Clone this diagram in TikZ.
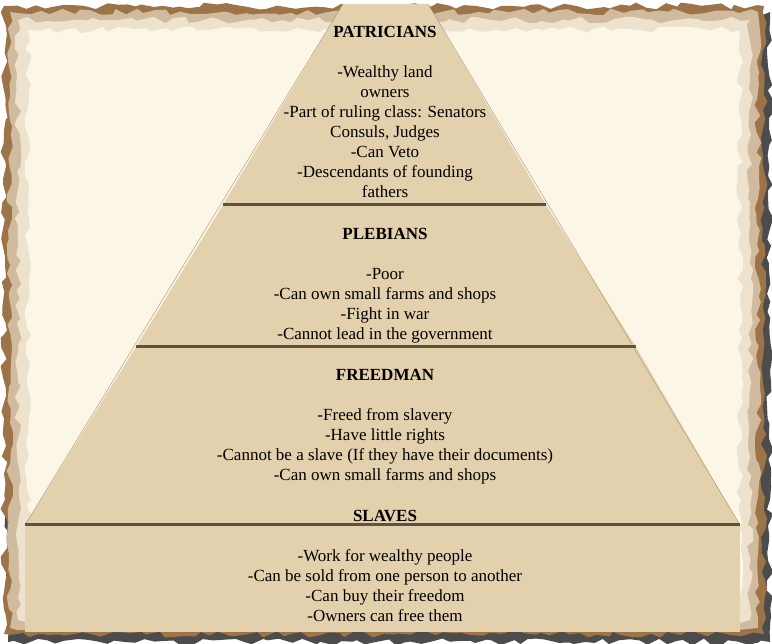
\documentclass[tikz,border=0pt]{standalone}
\usepackage{fontspec}
\setmainfont{Liberation Serif}
\usetikzlibrary{decorations.pathmorphing}
\definecolor{paper}{HTML}{FBF6E6}
\definecolor{burnt}{HTML}{9C7448}
\definecolor{tier}{HTML}{E3D0AC}
\definecolor{tierdark}{HTML}{D2B98E}

\begin{document}
\begin{tikzpicture}[
    x=1pt, y=-1pt,
    tiertext/.style={align=center, anchor=north, inner sep=0pt, font=\fontsize{17}{20}\selectfont},
    divider/.style={line width=3pt, draw=black!55!tierdark},
    torn/.style={decorate, decoration={random steps, segment length=9pt, amplitude=3.5pt}}
]
\pgfmathsetseed{7}
\useasboundingbox (0,0) rectangle (772,644);

% torn paper
\fill[black!70, torn] (8,12) rectangle (770,642);
\fill[burnt, torn] (4,6) rectangle (764,634);
\fill[burnt!45!paper, torn] (10,12) rectangle (758,628);
\fill[paper!85!burnt, torn] (18,20) rectangle (750,620);
\fill[paper, torn] (28,30) rectangle (740,610);

% pyramid tiers
\fill[tier] (343,4) -- (428,4) -- (546,205) -- (223,205) -- cycle;
\fill[tier] (223,205) -- (546,205) -- (636,347) -- (136,347) -- cycle;
\fill[tier] (136,347) -- (636,347) -- (740,525) -- (25,525) -- cycle;
\fill[tier] (25,525) rectangle (740,632);
\draw[tierdark!80!black] (343,4) -- (25,525) (428,4) -- (740,525);

% dividers
\draw[divider] (223,205) -- (546,205);
\draw[divider] (136,347) -- (636,347);
\draw[divider] (25,525) -- (740,525);

% texts
\node[tiertext] (patricians) at (385,26) {\textbf{PATRICIANS}\\[20pt]-Wealthy land\\owners\\-Part of ruling class: Senators\\Consuls, Judges\\-Can Veto\\-Descendants of founding\\fathers};
\node[tiertext] (plebians) at (385,228) {\textbf{PLEBIANS}\\[20pt]-Poor\\-Can own small farms and shops\\-Fight in war\\-Cannot lead in the government};
\node[tiertext] (freedman) at (385,369) {\textbf{FREEDMAN}\\[20pt]-Freed from slavery\\-Have little rights\\-Cannot be a slave (If they have their documents)\\-Can own small farms and shops};
\node[tiertext] (slaves) at (385,510) {\textbf{SLAVES}\\[20pt]-Work for wealthy people\\-Can be sold from one person to another\\-Can buy their freedom\\-Owners can free them};
\end{tikzpicture}
\end{document}
